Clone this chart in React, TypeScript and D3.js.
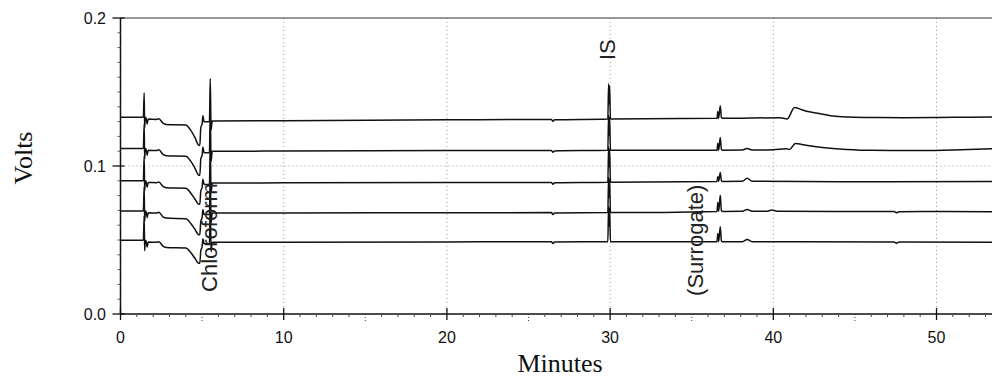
import * as d3 from 'd3';

// chromatogram traces, [minutes, volts] (top to bottom)
const trace1: [number, number][] = [
  [0, 0.1329], [1.4, 0.1329], [1.45, 0.1494], [1.48, 0.1259], [1.52, 0.1329], [1.58, 0.1319],
  [1.63, 0.1284], [1.7, 0.1317], [2.2, 0.1315], [2.35, 0.1320], [2.6, 0.1290], [2.8, 0.1281],
  [4.0, 0.1277], [4.3, 0.1242], [4.55, 0.1195], [4.8, 0.1140], [4.86, 0.1140], [4.92, 0.1259],
  [5.0, 0.1284], [5.05, 0.1339], [5.12, 0.1299], [5.45, 0.1299], [5.5, 0.1590], [5.55, 0.1244],
  [5.62, 0.1304], [10, 0.1306], [20, 0.1312], [26.4, 0.1315], [26.5, 0.1303], [26.6, 0.1312],
  [29.86, 0.1318], [29.91, 0.1555], [29.94, 0.1420], [29.97, 0.1540], [30.02, 0.1318],
  [36.55, 0.1322], [36.6, 0.1369], [36.65, 0.1322], [36.75, 0.1407], [36.82, 0.1327],
  [36.9, 0.1322], [40.4, 0.1326], [40.85, 0.1318], [41.3, 0.1396], [41.7, 0.1382], [42.2, 0.1366],
  [42.8, 0.1354], [43.5, 0.1340], [44.5, 0.1331], [46, 0.1328], [48, 0.1326], [50, 0.1327],
  [52, 0.1330], [54, 0.1332],
];

const trace2: [number, number][] = [
  [0, 0.1118], [1.4, 0.1118], [1.45, 0.1283], [1.48, 0.1048], [1.52, 0.1118], [1.58, 0.1108],
  [1.63, 0.1073], [1.7, 0.1106], [2.2, 0.1104], [2.35, 0.1109], [2.6, 0.1079], [2.8, 0.1070],
  [4.0, 0.1066], [4.3, 0.1033], [4.55, 0.0988], [4.8, 0.0938], [4.86, 0.0938], [4.92, 0.1048],
  [5.0, 0.1073], [5.05, 0.1128], [5.12, 0.1089], [5.45, 0.1089], [5.5, 0.1370], [5.55, 0.1034],
  [5.62, 0.1099], [10, 0.1101], [20, 0.1104], [26.4, 0.1105], [26.5, 0.1093], [26.6, 0.1102],
  [29.86, 0.1106], [29.91, 0.1345], [29.94, 0.1210], [29.97, 0.1330], [30.02, 0.1106],
  [36.55, 0.1107], [36.6, 0.1154], [36.65, 0.1107], [36.75, 0.1192], [36.82, 0.1112],
  [36.9, 0.1107], [38.1, 0.1108], [38.4, 0.1118], [38.7, 0.1108], [40.0, 0.1110], [40.8, 0.1116],
  [41.0, 0.1112], [41.35, 0.1152], [42, 0.1140], [43, 0.1125], [44.5, 0.1112], [46, 0.1106],
  [49, 0.1105], [51.5, 0.1110], [54, 0.1118],
];

const trace3: [number, number][] = [
  [0, 0.0901], [1.4, 0.0901], [1.45, 0.1066], [1.48, 0.0831], [1.52, 0.0901], [1.58, 0.0891],
  [1.63, 0.0856], [1.7, 0.0889], [2.2, 0.0887], [2.35, 0.0892], [2.6, 0.0862], [2.8, 0.0853],
  [4.0, 0.0849], [4.3, 0.0818], [4.55, 0.0779], [4.8, 0.0741], [4.86, 0.0741], [4.92, 0.0831],
  [5.0, 0.0856], [5.05, 0.0911], [5.12, 0.0875], [5.45, 0.0875], [5.5, 0.1150], [5.55, 0.0820],
  [5.62, 0.0885], [10, 0.0886], [20, 0.0888], [26.4, 0.0889], [26.5, 0.0877], [26.6, 0.0886],
  [29.86, 0.0890], [29.91, 0.1130], [29.94, 0.0995], [29.97, 0.1115], [30.02, 0.0890],
  [36.55, 0.0896], [36.6, 0.0929], [36.65, 0.0896], [36.75, 0.0956], [36.82, 0.0901],
  [36.9, 0.0896], [38.1, 0.0897], [38.4, 0.0917], [38.7, 0.0897], [44, 0.0893], [47, 0.0894],
  [54, 0.0895],
];

const trace4: [number, number][] = [
  [0, 0.0696], [1.4, 0.0696], [1.45, 0.0861], [1.48, 0.0626], [1.52, 0.0696], [1.58, 0.0686],
  [1.63, 0.0651], [1.7, 0.0684], [2.2, 0.0682], [2.35, 0.0687], [2.6, 0.0657], [2.8, 0.0648],
  [4.0, 0.0644], [4.3, 0.0613], [4.55, 0.0574], [4.8, 0.0536], [4.86, 0.0536], [4.92, 0.0626],
  [5.0, 0.0651], [5.05, 0.0706], [5.12, 0.0672], [5.45, 0.0672], [5.5, 0.0940], [5.55, 0.0617],
  [5.62, 0.0682], [10, 0.0683], [20, 0.0684], [26.4, 0.0685], [26.5, 0.0673], [26.6, 0.0682],
  [29.86, 0.0685], [29.91, 0.0925], [29.94, 0.0790], [29.97, 0.0910], [30.02, 0.0685],
  [36.55, 0.0693], [36.6, 0.0753], [36.65, 0.0693], [36.75, 0.0803], [36.82, 0.0698],
  [36.9, 0.0693], [38.1, 0.0694], [38.4, 0.0706], [38.7, 0.0694], [39.6, 0.0694], [39.9, 0.0702],
  [40.3, 0.0694], [47.4, 0.0692], [47.55, 0.0684], [47.7, 0.0691], [50.5, 0.0693], [54, 0.0690],
];

const trace5: [number, number][] = [
  [0, 0.0498], [1.4, 0.0498], [1.45, 0.0663], [1.48, 0.0428], [1.52, 0.0498], [1.58, 0.0488],
  [1.63, 0.0453], [1.7, 0.0486], [2.2, 0.0484], [2.35, 0.0489], [2.6, 0.0459], [2.8, 0.0450],
  [4.0, 0.0446], [4.3, 0.0416], [4.55, 0.0378], [4.8, 0.0343], [4.86, 0.0343], [4.92, 0.0428],
  [5.0, 0.0453], [5.05, 0.0508], [5.12, 0.0474], [5.45, 0.0474], [5.5, 0.0740], [5.55, 0.0420],
  [5.62, 0.0484], [10, 0.0485], [20, 0.0487], [26.4, 0.0488], [26.5, 0.0476], [26.6, 0.0486],
  [29.86, 0.0489], [29.91, 0.0729], [29.94, 0.0595], [29.97, 0.0715], [30.02, 0.0489],
  [36.55, 0.0489], [36.6, 0.0544], [36.65, 0.0489], [36.75, 0.0589], [36.82, 0.0494],
  [36.9, 0.0489], [38.1, 0.0489], [38.4, 0.0503], [38.7, 0.0489], [47.4, 0.0486], [47.55, 0.0478],
  [47.7, 0.0486], [54, 0.0484],
];

const traces = [trace1, trace2, trace3, trace4, trace5];

const xTicks = [0, 10, 20, 30, 40, 50];
const yTicks = [0.0, 0.1, 0.2];

// peak labels: text, minutes and volts where the rotated text starts
const peakLabels = ['Chloroform', 'IS', '(Surrogate)'];
const peakLabelMinutes = [5.9, 30.3, 35.7];
const peakLabelVolts = [0.0149, 0.1716, 0.0122];

export default function App() {
  const width = 992;
  const height = 377;

  const x = d3.scaleLinear().domain([0, 54]).range([120.5, 1001.8]);
  const y = d3.scaleLinear().domain([0, 0.2]).range([314, 18]);

  const line = d3.line<[number, number]>()
    .x(d => x(d[0]))
    .y(d => y(d[1]))
    .curve(d3.curveMonotoneX);

  const minorX = d3.range(1, 54).filter(m => m % 10 !== 0);
  const minorY = d3.range(1, 20).filter(i => i % 10 !== 0).map(i => i / 100);

  const [x0, x1] = x.range();
  const [yb, yt] = y.range();

  return (
    <svg
      width={width}
      height={height}
      style={{ position: 'absolute', left: 0, top: 0, background: '#fff' }}
    >
      <rect width={width} height={height} fill="#fff" />

      {/* grid */}
      {xTicks.filter(t => t > 0).map(t => (
        <line key={'gx' + t} x1={x(t)} x2={x(t)} y1={yt} y2={yb}
          stroke="#9a9a9a" strokeWidth={1} strokeDasharray="1,3" />
      ))}
      <line x1={x0} x2={x1} y1={y(0.1)} y2={y(0.1)}
        stroke="#9a9a9a" strokeWidth={1} strokeDasharray="1,3" />

      {/* frame */}
      <line x1={x0} x2={x1} y1={yt} y2={yt} stroke="#333" strokeWidth={1.2} />
      <line x1={x0} x2={x1} y1={yb} y2={yb} stroke="#111" strokeWidth={1.5} />
      <line x1={x0} x2={x0} y1={yt} y2={yb} stroke="#111" strokeWidth={1.5} />

      {/* x ticks */}
      {minorX.map(m => (
        <line key={'mx' + m} x1={x(m)} x2={x(m)} y1={yb} y2={yb + (m % 5 === 0 ? 7 : 3)}
          stroke="#444" strokeWidth={1} strokeDasharray={m % 5 === 0 ? '1,2' : undefined} />
      ))}
      {xTicks.map(t => (
        <g key={'xt' + t}>
          <line x1={x(t)} x2={x(t)} y1={yb - 6} y2={yb + 6} stroke="#111" strokeWidth={1.3} />
          <text x={x(t)} y={343} textAnchor="middle" fontFamily="Liberation Sans, Arial, sans-serif"
            fontSize={16} fill="#111">{t}</text>
        </g>
      ))}

      {/* y ticks */}
      {minorY.map(v => (
        <line key={'my' + v} x1={x0 - 3} x2={x0} y1={y(v)} y2={y(v)} stroke="#555" strokeWidth={1} />
      ))}
      {yTicks.map(v => (
        <g key={'yt' + v}>
          <line x1={x0 - 8} x2={x0 + 4} y1={y(v)} y2={y(v)} stroke="#111" strokeWidth={1.3} />
          <text x={106} y={y(v)} dy="0.35em" textAnchor="end"
            fontFamily="Liberation Sans, Arial, sans-serif" fontSize={16} fill="#111">
            {v.toFixed(1)}
          </text>
        </g>
      ))}

      {/* traces */}
      {traces.map((tr, i) => (
        <path key={'tr' + i} d={line(tr) ?? ''} fill="none" stroke="#111"
          strokeWidth={1.5} strokeLinejoin="round" />
      ))}

      {/* peak labels */}
      {peakLabels.map((label, i) => (
        <text key={label}
          transform={`translate(${x(peakLabelMinutes[i])},${y(peakLabelVolts[i])}) rotate(-90)`}
          fontFamily="Liberation Sans, Arial, sans-serif" fontSize={22} fill="#222">
          {label}
        </text>
      ))}

      {/* axis titles */}
      <text x={560} y={372} textAnchor="middle" fontFamily="Liberation Serif, Times New Roman, serif"
        fontSize={26} fill="#111">Minutes</text>
      <text transform="translate(32,158) rotate(-90)" textAnchor="middle"
        fontFamily="Liberation Serif, Times New Roman, serif" fontSize={26} fill="#111">Volts</text>
    </svg>
  );
}
